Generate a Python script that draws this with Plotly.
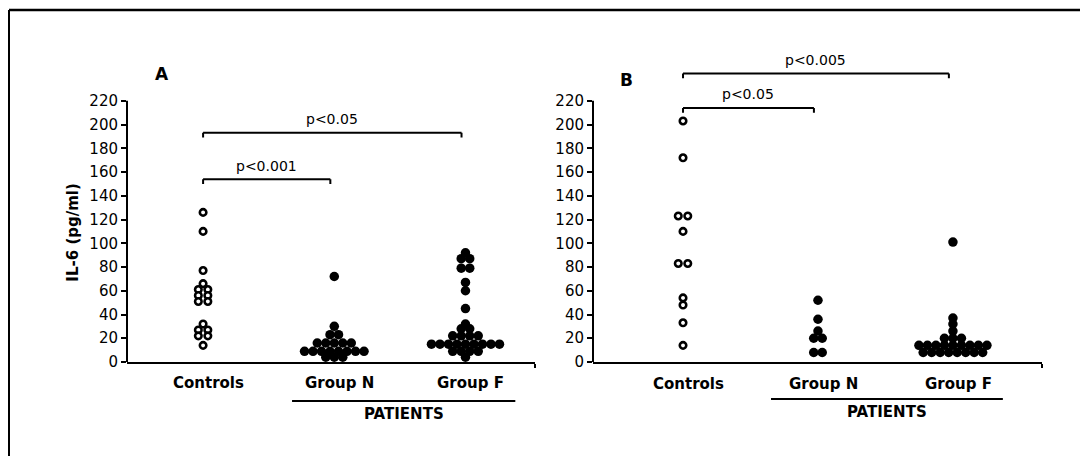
import plotly.graph_objects as go

# ---------------- data ----------------
categories = ["Controls", "Group N", "Group F"]

a_controls = [126, 110, 77, 66, 61, 61, 56, 56, 51, 51, 32, 27, 27, 22, 22, 14]
a_group_n = [72, 30, 23, 23, 16, 16, 16, 16, 16, 9, 9, 9, 9, 9, 9, 9, 9, 4, 4, 4]
a_group_f = [92, 87, 87, 79, 79, 67, 60, 45, 32, 28, 28, 22, 22, 22, 22,
             15, 15, 15, 15, 15, 15, 15, 15, 15, 9, 9, 9, 9, 4]

b_controls = [203, 172, 123, 123, 110, 83, 83, 54, 48, 33, 14]
b_group_n = [52, 36, 26, 20, 20, 8, 8]
b_group_f = [101, 37, 32, 26, 20, 20, 20, 14, 14, 14, 14, 14, 14, 14, 14, 14,
             8, 8, 8, 8, 8, 8, 8, 8]

y_ticks = [0, 20, 40, 60, 80, 100, 120, 140, 160, 180, 200, 220]
sig_a = [("p<0.001", 0, 1, 154), ("p<0.05", 0, 2, 193)]
sig_b = [("p<0.05", 0, 1, 214), ("p<0.005", 0, 2, 243)]

# ---------------- layout helpers ----------------
W, H = 1080, 466
SY = 0.978  # vertical scale observed between page and captured picture
FONT = "DejaVu Sans"


def px(x):
    return x / W


def py(y):
    return 1 - (y / SY) / H


Y_RANGE = [0, 270]
KY_PX = 1.184
Y_DOMAIN = [py(361), py(361 - 270 * KY_PX)]
XA_RANGE = [-0.58, 2.53]
XA_DOMAIN = [px(127), px(535)]
XB_RANGE = [-0.667, 2.66]
XB_DOMAIN = [px(593), px(1042)]


def row_offsets(values, kx, spacing):
    """Points sharing a value are spread in a centred horizontal row."""
    counts = {}
    for v in values:
        counts[v] = counts.get(v, 0) + 1
    seen = {}
    offs = []
    for v in values:
        j = seen.get(v, 0)
        seen[v] = j + 1
        offs.append((j - (counts[v] - 1) / 2) * spacing / kx)
    return offs


kxa = (XA_DOMAIN[1] - XA_DOMAIN[0]) * W / (XA_RANGE[1] - XA_RANGE[0])
kxb = (XB_DOMAIN[1] - XB_DOMAIN[0]) * W / (XB_RANGE[1] - XB_RANGE[0])

fig = go.Figure()

open_marker = dict(symbol="circle", size=6.5, color="white",
                   line=dict(color="black", width=2.6))
filled_marker = dict(symbol="circle", size=9.5, color="black",
                     line=dict(color="black", width=0))

panels = [
    ("x", "y", kxa, [a_controls, a_group_n, a_group_f]),
    ("x2", "y2", kxb, [b_controls, b_group_n, b_group_f]),
]
for xr, yr, kx, groups in panels:
    for i, vals in enumerate(groups):
        offs = row_offsets(vals, kx, 9.5 if i == 0 else 8.5)
        fig.add_trace(go.Scatter(
            x=[i + o for o in offs], y=vals, mode="markers",
            marker=open_marker if i == 0 else filled_marker,
            xaxis=xr, yaxis=yr, cliponaxis=False, showlegend=False,
            hoverinfo="y"))

axis_common_y = dict(range=Y_RANGE, domain=Y_DOMAIN, showgrid=False, zeroline=False,
                     showline=False, tickvals=y_ticks, ticks="outside", ticklen=5,
                     tickwidth=1.5, tickcolor="black",
                     tickfont=dict(family=FONT, size=15, color="black"))
axis_common_x = dict(showgrid=False, zeroline=False, showline=True, linecolor="black",
                     linewidth=2, ticks="outside", ticklen=4, tickwidth=1.5,
                     tickcolor="black", showticklabels=False)

fig.update_layout(
    width=W, height=H, margin=dict(l=0, r=0, t=0, b=0),
    paper_bgcolor="white", plot_bgcolor="white",
    xaxis=dict(axis_common_x, range=XA_RANGE, domain=XA_DOMAIN, anchor="y",
               tickvals=[XA_RANGE[1]]),
    yaxis=dict(axis_common_y, anchor="x"),
    xaxis2=dict(axis_common_x, range=XB_RANGE, domain=XB_DOMAIN, anchor="y2",
                tickvals=[XB_RANGE[1]]),
    yaxis2=dict(axis_common_y, anchor="x2"),
)

shapes = []
annotations = []
line_style = dict(color="black", width=2)

for xr, yr, sigs, patients_span, patients_y, cat_y in [
    ("x", "y", sig_a, (0.678, 2.38), 400, 382),
    ("x2", "y2", sig_b, (0.652, 2.37), 398, 383),
]:
    # y axis line up to 220
    shapes.append(dict(type="line", xref=f"{xr} domain", yref=yr, x0=0, x1=0,
                       y0=0, y1=y_ticks[-1], line=line_style))
    # significance brackets
    for label, g0, g1, yv in sigs:
        x1 = g1 - 0.03
        shapes.append(dict(type="line", xref=xr, yref=yr, x0=g0, x1=x1, y0=yv, y1=yv,
                           line=line_style))
        for xe in (g0, x1):
            shapes.append(dict(type="line", xref=xr, yref=yr, x0=xe, x1=xe,
                               y0=yv, y1=yv - 4, line=line_style))
        annotations.append(dict(xref=xr, yref=yr, x=(g0 + x1) / 2, y=yv + 3,
                                text=label, showarrow=False, yanchor="bottom",
                                font=dict(family=FONT, size=14, color="black")))
    # category labels
    for i, c in enumerate(categories):
        annotations.append(dict(xref=xr, yref="paper", x=i + 0.04, y=py(cat_y),
                                text=f"<b>{c}</b>", showarrow=False, yanchor="middle",
                                font=dict(family=FONT, size=15, color="black")))
    # PATIENTS line and label
    shapes.append(dict(type="line", xref=xr, yref="paper", x0=patients_span[0],
                       x1=patients_span[1], y0=py(patients_y), y1=py(patients_y),
                       line=line_style))
    annotations.append(dict(xref=xr, yref="paper",
                            x=(patients_span[0] + patients_span[1]) / 2,
                            y=py(patients_y + 13), text="<b>PATIENTS</b>",
                            showarrow=False, yanchor="middle",
                            font=dict(family=FONT, size=15, color="black")))

# panel letters and y title
annotations.append(dict(xref="paper", yref="paper", x=px(153), y=py(62), text="<b>A</b>",
                        showarrow=False, font=dict(family=FONT, size=17, color="black")))
annotations.append(dict(xref="paper", yref="paper", x=px(626), y=py(68), text="<b>B</b>",
                        showarrow=False, font=dict(family=FONT, size=17, color="black")))
annotations.append(dict(xref="paper", yref="paper", x=px(62), y=py(232),
                        text="<b>IL-6 (pg/ml)</b>", textangle=-90, showarrow=False,
                        font=dict(family=FONT, size=15, color="black")))

# outer frame (left and top edges)
shapes.append(dict(type="line", xref="paper", yref="paper", x0=px(9), x1=px(9),
                   y0=0, y1=py(10), line=dict(color="black", width=2)))
shapes.append(dict(type="line", xref="paper", yref="paper", x0=px(9), x1=1,
                   y0=py(10), y1=py(10), line=dict(color="black", width=2.5)))

fig.update_layout(shapes=shapes, annotations=annotations)
fig.write_html(
    "out.html",
    config={"displayModeBar": False},
    post_script="document.body.style.margin='0';"
                "document.documentElement.style.overflow='hidden';",
)
